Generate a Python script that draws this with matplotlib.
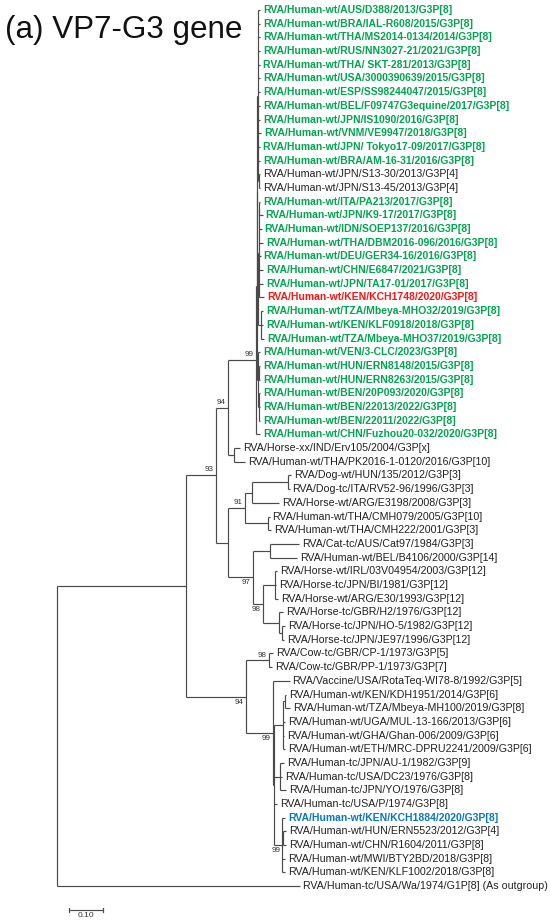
import matplotlib
matplotlib.use("Agg")
import matplotlib.pyplot as plt

plt.rcParams['font.family'] = ['Liberation Sans', 'DejaVu Sans']

# internal nodes: name, parent, branch length (subst./site), bootstrap
node_name = ["root", "ingroup", "n93", "n94", "n99g", "nS", "nT", "nA1", "nS13",
             "nA2", "nA2a", "nITA", "nMb", "nU", "nHUN", "nBEN", "nHI",
             "nX", "n91", "nDH", "nDog", "nCMH", "n97", "nCat", "n98", "nIRL",
             "nH2", "nHO", "n94b", "nCow", "n99b", "nC", "nE", "nKDH", "nF",
             "n99k", "nERN"]
node_parent = [None, "root", "ingroup", "n93", "n94", "n99g", "nS", "nT", "nA1",
               "nT", "nA2", "nA2a", "nA2", "nS", "nU", "nU", "n94",
               "n93", "nX", "n91", "nDH", "n91", "nX", "n97", "n97", "n98",
               "n98", "nH2", "ingroup", "n94b", "n94b", "n99b", "nC", "nE", "nC",
               "nC", "n99k"]
node_length = [0.0, 0.379, 0.088, 0.035, 0.082, 0.003, 0.0015, 0.0015, 0.003,
               0.0015, 0.003, 0.0015, 0.009, 0.003, 0.003, 0.003, 0.018,
               0.035, 0.050, 0.021, 0.106, 0.068, 0.074, 0.050, 0.029, 0.037,
               0.047, 0.009, 0.176, 0.068, 0.079, 0.003, 0.029, 0.006, 0.018,
               0.026, 0.003]
node_support = [None, None, 93, 94, 99, None, None, None, None,
                None, None, None, None, None, None, None, None,
                None, 91, None, None, None, 97, None, 98, None,
                None, None, 94, 98, 99, None, None, None, None,
                99, None]

leaf_labels = [
    "RVA/Human-wt/AUS/D388/2013/G3P[8]",
    "RVA/Human-wt/BRA/IAL-R608/2015/G3P[8]",
    "RVA/Human-wt/THA/MS2014-0134/2014/G3P[8]",
    "RVA/Human-wt/RUS/NN3027-21/2021/G3P[8]",
    "RVA/Human-wt/THA/ SKT-281/2013/G3P[8]",
    "RVA/Human-wt/USA/3000390639/2015/G3P[8]",
    "RVA/Human-wt/ESP/SS98244047/2015/G3P[8]",
    "RVA/Human-wt/BEL/F09747G3equine/2017/G3P[8]",
    "RVA/Human-wt/JPN/IS1090/2016/G3P[8]",
    "RVA/Human-wt/VNM/VE9947/2018/G3P[8]",
    "RVA/Human-wt/JPN/ Tokyo17-09/2017/G3P[8]",
    "RVA/Human-wt/BRA/AM-16-31/2016/G3P[8]",
    "RVA/Human-wt/JPN/S13-30/2013/G3P[4]",
    "RVA/Human-wt/JPN/S13-45/2013/G3P[4]",
    "RVA/Human-wt/ITA/PA213/2017/G3P[8]",
    "RVA/Human-wt/JPN/K9-17/2017/G3P[8]",
    "RVA/Human-wt/IDN/SOEP137/2016/G3P[8]",
    "RVA/Human-wt/THA/DBM2016-096/2016/G3P[8]",
    "RVA/Human-wt/DEU/GER34-16/2016/G3P[8]",
    "RVA/Human-wt/CHN/E6847/2021/G3P[8]",
    "RVA/Human-wt/JPN/TA17-01/2017/G3P[8]",
    "RVA/Human-wt/KEN/KCH1748/2020/G3P[8]",
    "RVA/Human-wt/TZA/Mbeya-MHO32/2019/G3P[8]",
    "RVA/Human-wt/KEN/KLF0918/2018/G3P[8]",
    "RVA/Human-wt/TZA/Mbeya-MHO37/2019/G3P[8]",
    "RVA/Human-wt/VEN/3-CLC/2023/G3P[8]",
    "RVA/Human-wt/HUN/ERN8148/2015/G3P[8]",
    "RVA/Human-wt/HUN/ERN8263/2015/G3P[8]",
    "RVA/Human-wt/BEN/20P093/2020/G3P[8]",
    "RVA/Human-wt/BEN/22013/2022/G3P[8]",
    "RVA/Human-wt/BEN/22011/2022/G3P[8]",
    "RVA/Human-wt/CHN/Fuzhou20-032/2020/G3P[8]",
    "RVA/Horse-xx/IND/Erv105/2004/G3P[x]",
    "RVA/Human-wt/THA/PK2016-1-0120/2016/G3P[10]",
    "RVA/Dog-wt/HUN/135/2012/G3P[3]",
    "RVA/Dog-tc/ITA/RV52-96/1996/G3P[3]",
    "RVA/Horse-wt/ARG/E3198/2008/G3P[3]",
    "RVA/Human-wt/THA/CMH079/2005/G3P[10]",
    "RVA/Human-wt/THA/CMH222/2001/G3P[3]",
    "RVA/Cat-tc/AUS/Cat97/1984/G3P[3]",
    "RVA/Human-wt/BEL/B4106/2000/G3P[14]",
    "RVA/Horse-wt/IRL/03V04954/2003/G3P[12]",
    "RVA/Horse-tc/JPN/BI/1981/G3P[12]",
    "RVA/Horse-wt/ARG/E30/1993/G3P[12]",
    "RVA/Horse-tc/GBR/H2/1976/G3P[12]",
    "RVA/Horse-tc/JPN/HO-5/1982/G3P[12]",
    "RVA/Horse-tc/JPN/JE97/1996/G3P[12]",
    "RVA/Cow-tc/GBR/CP-1/1973/G3P[5]",
    "RVA/Cow-tc/GBR/PP-1/1973/G3P[7]",
    "RVA/Vaccine/USA/RotaTeq-WI78-8/1992/G3P[5]",
    "RVA/Human-wt/KEN/KDH1951/2014/G3P[6]",
    "RVA/Human-wt/TZA/Mbeya-MH100/2019/G3P[8]",
    "RVA/Human-wt/UGA/MUL-13-166/2013/G3P[6]",
    "RVA/Human-wt/GHA/Ghan-006/2009/G3P[6]",
    "RVA/Human-wt/ETH/MRC-DPRU2241/2009/G3P[6]",
    "RVA/Human-tc/JPN/AU-1/1982/G3P[9]",
    "RVA/Human-tc/USA/DC23/1976/G3P[8]",
    "RVA/Human-tc/JPN/YO/1976/G3P[8]",
    "RVA/Human-tc/USA/P/1974/G3P[8]",
    "RVA/Human-wt/KEN/KCH1884/2020/G3P[8]",
    "RVA/Human-wt/HUN/ERN5523/2012/G3P[4]",
    "RVA/Human-wt/CHN/R1604/2011/G3P[8]",
    "RVA/Human-wt/MWI/BTY2BD/2018/G3P[8]",
    "RVA/Human-wt/KEN/KLF1002/2018/G3P[8]",
    "RVA/Human-tc/USA/Wa/1974/G1P[8] (As outgroup)",
]
leaf_parent = (["nA1"] * 12 + ["nS13"] * 2 + ["nITA"] * 2 + ["nA2a"] * 6 +
               ["nMb"] * 3 + ["nU"] + ["nHUN"] * 2 + ["nBEN"] * 3 + ["n99g"] +
               ["nHI"] * 2 + ["nDog"] * 2 + ["nDH"] + ["nCMH"] * 2 +
               ["nCat"] * 2 + ["nIRL"] * 3 + ["nH2"] + ["nHO"] * 2 +
               ["nCow"] * 2 + ["n99b"] + ["nKDH"] * 2 + ["nE"] * 3 +
               ["nF"] * 3 + ["nC"] + ["n99k"] + ["nERN"] * 2 + ["n99k"] * 2 +
               ["root"])
leaf_length = [0.007, 0.007, 0.007, 0.007, 0.007, 0.007, 0.007, 0.007, 0.007,
               0.010, 0.007, 0.007, 0.004, 0.004, 0.002, 0.010, 0.009, 0.014,
               0.006, 0.012, 0.012, 0.016, 0.008, 0.006, 0.010, 0.007, 0.004,
               0.004, 0.004, 0.004, 0.004, 0.013, 0.018, 0.034, 0.010, 0.005,
               0.079, 0.005, 0.009, 0.087, 0.079, 0.004, 0.002, 0.007, 0.014,
               0.010, 0.007, 0.012, 0.009, 0.050, 0.003, 0.013, 0.004, 0.001,
               0.004, 0.013, 0.006, 0.019, 0.011, 0.007, 0.007, 0.007, 0.007,
               0.007, 0.715]
# g = G3P[8] equine-like cluster, r / b = strains from this study, k = reference
leaf_group = (["g"] * 12 + ["k"] * 2 + ["g"] * 7 + ["r"] + ["g"] * 10 +
              ["k"] * 27 + ["b"] + ["k"] * 5)

title = "(a) VP7-G3 gene"
scale_value = 0.10

group_color = {"g": "#00a650", "k": "#222222", "r": "#ff1414", "b": "#0a78be"}
group_weight = {"g": "bold", "k": "normal", "r": "bold", "b": "bold"}
group_size = {"g": 7.5, "k": 7.65, "r": 7.5, "b": 7.5}

# ---- layout ----
x = {}
for name, par, bl in zip(node_name, node_parent, node_length):
    x[name] = 0.0 if par is None else x[par] + bl

children = {n: [] for n in node_name}
for name, par in zip(node_name, node_parent):
    if par is not None:
        children[par].append(("node", name))
leaf_x = []
for i, (par, bl) in enumerate(zip(leaf_parent, leaf_length)):
    leaf_x.append(x[par] + bl)
    children[par].append(("leaf", i))

y = {}


def node_y(name):
    ys = []
    for kind, c in children[name]:
        ys.append(float(c) if kind == "leaf" else node_y(c))
    y[name] = (min(ys) + max(ys)) / 2
    return y[name]


node_y("root")

fig = plt.figure(figsize=(5.5, 9.24), dpi=100)
ax = fig.add_axes([0, 0, 1, 1])
px = 340.0  # pixels per substitution unit
ax.set_xlim(-57 / px, (550 - 57) / px)
ax.set_ylim((924 - 10) / 13.69, -10 / 13.69)
ax.axis("off")

lc = "#4a4a4a"
lw = 0.85
for name in node_name:
    cys = []
    for kind, c in children[name]:
        if kind == "leaf":
            cx, cy = leaf_x[c], float(c)
        else:
            cx, cy = x[c], y[c]
        cys.append(cy)
        ax.plot([x[name], cx], [cy, cy], color=lc, lw=lw, solid_capstyle="butt")
    ax.plot([x[name], x[name]], [min(cys), max(cys)], color=lc, lw=lw,
            solid_capstyle="butt")

for i, lab in enumerate(leaf_labels):
    g = leaf_group[i]
    ax.annotate(lab, (leaf_x[i], i), xytext=(2.2, 0), textcoords="offset points",
                va="center", ha="left", fontsize=group_size[g],
                color=group_color[g], fontweight=group_weight[g])

# bootstrap values: above the branch for upper child, below for lower child
parent_of = dict(zip(node_name, node_parent))
for name, sup in zip(node_name, node_support):
    if sup is None:
        continue
    upper = y[name] < y[parent_of[name]]
    ax.annotate(str(sup), (x[name], y[name]),
                xytext=(-1.4, 1.2 if upper else -1.4), textcoords="offset points",
                ha="right", va="bottom" if upper else "top", fontsize=5.8,
                color="#333333")

# scale bar
sx0 = 12.3 / px
sy = (910 - 10) / 13.69
ax.plot([sx0, sx0 + scale_value], [sy, sy], color=lc, lw=lw)
for sx in (sx0, sx0 + scale_value):
    ax.plot([sx, sx], [sy - 0.18, sy + 0.18], color=lc, lw=lw)
ax.annotate("%.2f" % scale_value, (sx0 + scale_value / 2, sy),
            xytext=(0, -1.2), textcoords="offset points", ha="center",
            va="top", fontsize=6, color="#333333")

fig.text(5 / 550, 1 - 38 / 924, title, fontsize=22.6, va="baseline", ha="left",
         color="#111111")

fig.savefig("out.png", dpi=100)
